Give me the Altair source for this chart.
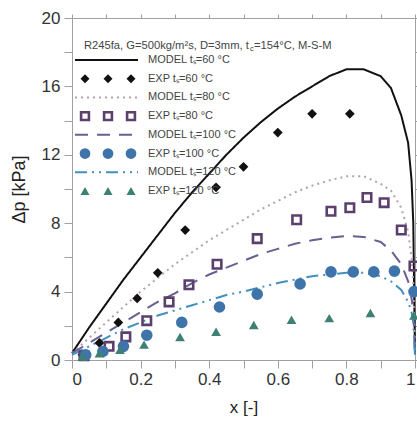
import altair as alt
import pandas as pd

# ---------------- data ----------------
x_model = [0, 0.05, 0.1, 0.15, 0.2, 0.25, 0.3, 0.35, 0.4, 0.45, 0.5, 0.55, 0.6,
           0.65, 0.7, 0.75, 0.8, 0.85, 0.9, 0.93, 0.96, 0.98, 0.99, 0.995, 1.0]
model_60 = [0.4, 1.9, 3.3, 4.7, 6.0, 7.3, 8.6, 9.8, 10.9, 12.0, 13.0, 13.9, 14.7,
            15.4, 16.0, 16.6, 17.0, 17.0, 16.6, 15.9, 14.3, 12.7, 10.5, 8.0, 0.3]
model_80 = [0.4, 1.3, 2.2, 3.1, 4.0, 4.8, 5.6, 6.3, 7.0, 7.6, 8.2, 8.8, 9.3,
            9.8, 10.2, 10.5, 10.75, 10.75, 10.3, 9.9, 8.9, 7.5, 6.0, 4.5, 0.3]
model_100 = [0.4, 1.0, 1.6, 2.2, 2.8, 3.4, 3.9, 4.5, 5.0, 5.4, 5.8, 6.2, 6.5,
             6.8, 7.0, 7.15, 7.25, 7.2, 6.9, 6.4, 5.6, 4.6, 3.6, 2.8, 0.3]
model_120 = [0.3, 0.8, 1.3, 1.8, 2.2, 2.6, 2.9, 3.2, 3.5, 3.8, 4.0, 4.25, 4.5,
             4.7, 4.9, 5.0, 5.1, 5.1, 4.9, 4.6, 4.1, 3.4, 2.8, 2.2, 0.3]

exp60_x = [0.03, 0.08, 0.135, 0.19, 0.25, 0.33, 0.42, 0.50, 0.60, 0.70, 0.81]
exp60_y = [0.3, 1.0, 2.2, 3.6, 5.1, 7.6, 10.1, 11.3, 13.3, 14.4, 14.4]
exp80_x = [0.035, 0.108, 0.157, 0.218, 0.283, 0.341, 0.423, 0.54, 0.655, 0.755,
           0.81, 0.86, 0.91, 0.96, 0.997]
exp80_y = [0.25, 0.8, 1.35, 2.3, 3.4, 4.4, 5.6, 7.1, 8.2, 8.7, 8.9, 9.5, 9.2, 7.6, 5.5]
exp100_x = [0.04, 0.09, 0.15, 0.218, 0.32, 0.43, 0.54, 0.665, 0.755, 0.82, 0.88,
            0.94, 0.997]
exp100_y = [0.3, 0.5, 0.8, 1.45, 2.2, 3.1, 3.85, 4.45, 5.15, 5.15, 5.15, 5.2, 4.0]
exp120_x = [0.03, 0.08, 0.14, 0.21, 0.315, 0.42, 0.53, 0.64, 0.75, 0.87, 0.997]
exp120_y = [0.2, 0.4, 0.6, 0.9, 1.35, 1.65, 2.05, 2.35, 2.45, 2.75, 2.6]

model_names = ["MODEL tₛ=60 °C", "MODEL tₛ=80 °C", "MODEL tₛ=100 °C", "MODEL tₛ=120 °C"]
exp_names = ["EXP tₛ=60 °C", "EXP tₛ=80 °C", "EXP tₛ=100 °C", "EXP tₛ=120 °C"]
header_parts = ["R245fa, G=500kg/m²s, D=3mm, t", "c", "=154°C, M-S-M"]
x_ticks = [0, 0.1, 0.2, 0.3, 0.4, 0.5, 0.6, 0.7, 0.8, 0.9, 1.0]
y_ticks = [0, 2, 4, 6, 8, 10, 12, 14, 16, 18, 20]

# ---------------- styles ----------------
model_colors = ["#111111", "#b79fb0", "#6a5f92", "#4290bd"]
model_dashes = [[1, 0], [2, 4], [13, 9], [12, 5, 2, 5, 2, 5]]
exp_colors = ["#111111", "#5b3f6c", "#3e74aa", "#3f8074"]
exp_shapes = ["diamond", "square", "circle", "triangle-up"]
exp_filled = [True, False, True, True]
exp_sizes = [95, 72, 135, 95]
exp_stroke = [1, 2.6, 1, 1]

FONT = "Liberation Sans"

model_df = pd.DataFrame({
    "x": x_model * 4,
    "dp": model_60 + model_80 + model_100 + model_120,
    "series": sum([[n] * len(x_model) for n in model_names], []),
})

xs = alt.Scale(domain=[0, 1], nice=False, zero=False)
ys = alt.Scale(domain=[0, 20], nice=False, zero=False)

axis_common = dict(grid=False, domainColor="#a0a0a0", tickColor="#a0a0a0",
                   labelColor="#333333", labelFont=FONT, titleFont=FONT,
                   titleColor="#222222", titleFontWeight="normal")

x_axis = alt.Axis(values=x_ticks, format="~g",
                  labelExpr="round(datum.value*10) % 2 == 0 ? datum.label : ''",
                  tickSize=8, labelFontSize=17, labelPadding=3, title="x [-]",
                  titleFontSize=17, titlePadding=12, **axis_common)
y_axis = alt.Axis(values=y_ticks, labelExpr="datum.value % 4 == 0 ? datum.label : ''",
                  tickSize=8, labelFontSize=17, labelPadding=4, title="Δp [kPa]",
                  titleFontSize=18, titlePadding=13, **axis_common)
x_axis_top = alt.Axis(values=x_ticks, labels=False, tickSize=4, title=None, orient="top",
                      grid=False, domainColor="#a0a0a0", tickColor="#a0a0a0")
y_axis_right = alt.Axis(values=y_ticks, labels=False, tickSize=4, title=None, orient="right",
                        grid=False, domainColor="#a0a0a0", tickColor="#a0a0a0")

lines = alt.Chart(model_df).mark_line(strokeWidth=2).encode(
    x=alt.X("x:Q", scale=xs, axis=x_axis),
    y=alt.Y("dp:Q", scale=ys, axis=y_axis),
    color=alt.Color("series:N", scale=alt.Scale(domain=model_names, range=model_colors), legend=None),
    strokeDash=alt.StrokeDash("series:N", scale=alt.Scale(domain=model_names, range=model_dashes), legend=None),
    detail="series:N",
)

exp_data = [(exp60_x, exp60_y), (exp80_x, exp80_y), (exp100_x, exp100_y), (exp120_x, exp120_y)]
point_layers = []
for i, (ex, ey) in enumerate(exp_data):
    df = pd.DataFrame({"x": ex, "dp": ey})
    mk = dict(shape=exp_shapes[i], size=exp_sizes[i], strokeWidth=exp_stroke[i],
              color=exp_colors[i], filled=exp_filled[i], opacity=1)
    if exp_filled[i]:
        mk["fill"] = exp_colors[i]
    point_layers.append(
        alt.Chart(df).mark_point(**mk).encode(
            x=alt.X("x:Q", scale=xs, axis=x_axis_top if i == 0 else None),
            y=alt.Y("dp:Q", scale=ys, axis=y_axis_right if i == 0 else None),
        )
    )

# ---------------- legend (drawn inside the plot) ----------------
leg_rows = [0, 2, 4, 6]
leg_exp_rows = [1, 3, 5, 7]
row_scale = alt.Scale(domain=[0, 7], range=[42, 173])

leg_line_df = pd.DataFrame({"row": leg_rows, "series": model_names})
leg_lines = alt.Chart(leg_line_df).mark_rule(strokeWidth=2).encode(
    x=alt.value(3), x2=alt.value(66),
    y=alt.Y("row:Q", scale=row_scale, axis=None),
    color=alt.Color("series:N", scale=alt.Scale(domain=model_names, range=model_colors), legend=None),
    strokeDash=alt.StrokeDash("series:N", scale=alt.Scale(domain=model_names, range=model_dashes), legend=None),
)

leg_point_layers = []
for i in range(4):
    df = pd.DataFrame({"k": [0, 1, 2], "row": [leg_exp_rows[i]] * 3})
    mk = dict(shape=exp_shapes[i], size=exp_sizes[i] * 0.85, strokeWidth=exp_stroke[i],
              color=exp_colors[i], filled=exp_filled[i], opacity=1)
    if exp_filled[i]:
        mk["fill"] = exp_colors[i]
    leg_point_layers.append(
        alt.Chart(df).mark_point(**mk).encode(
            x=alt.X("k:Q", scale=alt.Scale(domain=[0, 2], range=[13, 59]), axis=None),
            y=alt.Y("row:Q", scale=row_scale, axis=None),
        )
    )

leg_text_df = pd.DataFrame({
    "row": list(range(8)),
    "label": [model_names[0], exp_names[0], model_names[1], exp_names[1],
              model_names[2], exp_names[2], model_names[3], exp_names[3]],
})
leg_text = alt.Chart(leg_text_df).mark_text(
    align="left", baseline="middle", fontSize=11, font=FONT, color="#444444"
).encode(
    x=alt.value(76),
    y=alt.Y("row:Q", scale=row_scale, axis=None),
    text="label:N",
)

header1 = alt.Chart(pd.DataFrame({"t": [header_parts[0]]})).mark_text(
    align="left", baseline="middle", fontSize=11.2, font=FONT, color="#444444"
).encode(x=alt.value(12), y=alt.value(28), text="t:N")
header2 = alt.Chart(pd.DataFrame({"t": [header_parts[1]]})).mark_text(
    align="left", baseline="middle", fontSize=7.5, font=FONT, color="#444444"
).encode(x=alt.value(178), y=alt.value(31), text="t:N")
header3 = alt.Chart(pd.DataFrame({"t": [header_parts[2]]})).mark_text(
    align="left", baseline="middle", fontSize=11.2, font=FONT, color="#444444"
).encode(x=alt.value(182), y=alt.value(28), text="t:N")

chart = alt.layer(
    lines, *point_layers, leg_lines, *leg_point_layers, leg_text, header1, header2, header3
).resolve_scale(
    x="independent", y="independent"
).properties(
    width=343, height=342,
    padding={"left": 72, "top": 18, "right": 2, "bottom": 63},
    autosize=alt.AutoSizeParams(type="none"),
    background="white",
).configure_view(
    stroke="#a0a0a0", strokeWidth=1
)

chart.save("out.html", embed_options={"renderer": "svg", "actions": False})
